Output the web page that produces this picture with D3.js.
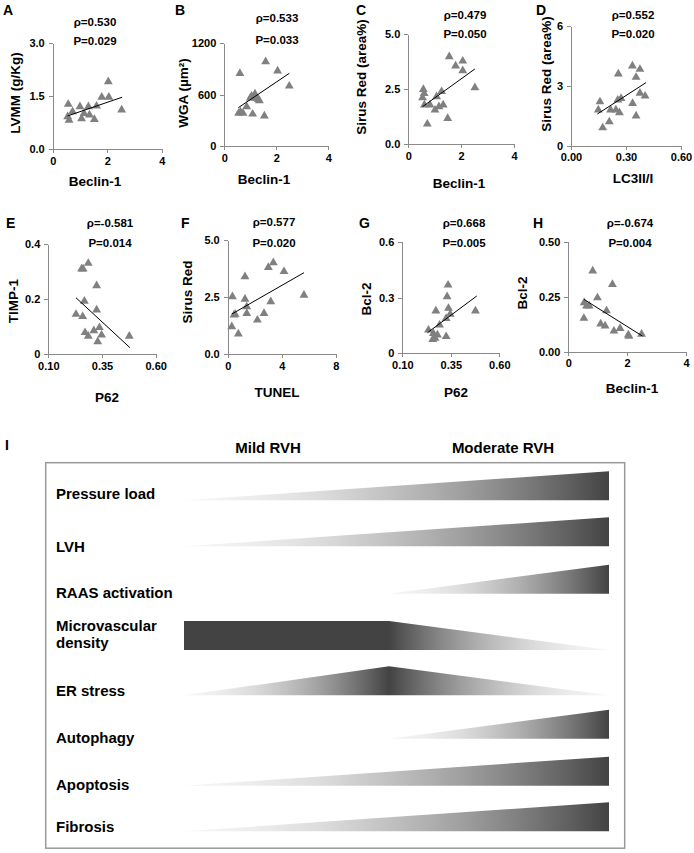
<!DOCTYPE html>
<html lang="en">
<head>
<meta charset="UTF-8">
<title>Correlations and RVH progression</title>
<style>
  body { margin: 0; background: #fff; }
  svg text { font-family: "Liberation Sans", Arial, sans-serif; font-weight: bold; fill: #000; }
  .axis path, .axis line { stroke: #8a8a8a; stroke-width: 1; shape-rendering: crispEdges; }
  .axis text { font-size: 11px; }
  .ttl { font-size: 13.5px; }
  .stat { font-size: 11.5px; }
  .letter { font-size: 14px; }
  .factor { font-size: 15px; }
</style>
</head>
<body>
<svg id="fig" width="694" height="853"></svg>
<script src="https://d3js.org/d3.v7.min.js"></script>
<script>
// ---- scatter data ----
const beclinA = [0.57, 0.55, 0.60, 0.73, 1.00, 1.06, 1.15, 1.31, 1.35, 1.53, 1.61, 1.80, 2.04, 2.06, 2.53];
const lvmmA   = [1.27, 0.92, 0.82, 1.06, 1.20, 0.86, 1.01, 1.20, 0.97, 0.84, 1.22, 1.47, 1.91, 1.47, 1.11];
const fitA = [[0.55, 0.94], [2.55, 1.47]];

const beclinB = [0.60, 0.55, 0.62, 0.72, 0.86, 1.00, 1.05, 1.18, 1.22, 1.31, 1.35, 1.09, 1.54, 1.59, 2.05, 2.50];
const wgaB    = [849, 382, 400, 382, 460, 560, 584, 608, 560, 545, 530, 374, 351, 986, 877, 701];
const fitB = [[0.54, 448], [2.50, 849]];

const beclinC = [0.57, 0.54, 0.60, 0.61, 0.82, 0.72, 1.01, 1.07, 1.16, 1.26, 1.32, 1.49, 1.55, 1.79, 2.06, 2.06, 2.52];
const siriusC = [2.49, 2.11, 2.30, 1.78, 1.78, 0.91, 1.55, 2.16, 1.70, 2.39, 1.78, 1.17, 3.98, 3.56, 3.78, 3.34, 2.57];
const fitC = [[0.54, 1.70], [2.52, 3.42]];

const lc3D    = [0.158, 0.149, 0.173, 0.209, 0.216, 0.245, 0.258, 0.264, 0.255, 0.273, 0.335, 0.336, 0.355, 0.376, 0.355, 0.376, 0.404];
const siriusD = [2.20, 1.79, 0.90, 1.20, 1.79, 1.79, 3.60, 1.66, 2.29, 2.37, 4.00, 2.12, 3.43, 3.83, 1.49, 2.63, 2.49];
const fitD = [[0.144, 1.59], [0.409, 3.16]];

const p62E  = [0.255, 0.286, 0.325, 0.268, 0.325, 0.229, 0.260, 0.271, 0.286, 0.312, 0.338, 0.348, 0.330, 0.477, 0.262];
const timpE = [0.310, 0.330, 0.249, 0.193, 0.161, 0.145, 0.137, 0.079, 0.066, 0.086, 0.097, 0.070, 0.046, 0.066, 0.310];
const fitE = [[0.229, 0.205], [0.480, 0.024]];

const tunelF  = [0.35, 0.30, 0.79, 0.47, 1.28, 1.28, 1.41, 1.41, 2.20, 2.69, 3.01, 3.38, 3.19, 4.17, 5.65, 0.55];
const siriusF = [2.52, 1.21, 0.89, 1.72, 3.40, 2.41, 2.08, 1.79, 1.50, 1.79, 3.80, 4.01, 2.30, 3.62, 2.59, 1.75];
const fitF = [[0.30, 1.76], [5.65, 3.57]];

const p62G = [0.336, 0.331, 0.273, 0.338, 0.347, 0.326, 0.477, 0.292, 0.235, 0.260, 0.281, 0.269, 0.326, 0.257];
const bclG = [0.367, 0.305, 0.228, 0.242, 0.210, 0.188, 0.228, 0.152, 0.125, 0.107, 0.099, 0.081, 0.090, 0.075];
const fitG = [[0.23, 0.111], [0.484, 0.308]];

const beclinH = [0.83, 1.50, 0.99, 0.54, 0.62, 0.71, 1.30, 0.53, 1.10, 1.25, 1.55, 1.76, 2.04, 2.49, 2.06];
const bclH    = [0.367, 0.306, 0.245, 0.223, 0.208, 0.208, 0.186, 0.152, 0.126, 0.117, 0.094, 0.106, 0.076, 0.080, 0.070];
const fitH = [[0.53, 0.238], [2.52, 0.071]];

// ---- panel text and ticks ----
const panelIds = ["A", "B", "C", "D", "E", "F", "G", "H"];
const xTitles = ["Beclin-1", "Beclin-1", "Beclin-1", "LC3II/I", "P62", "TUNEL", "P62", "Beclin-1"];
const yTitles = ["LVMM (g/Kg)", "WGA (µm²)", "Sirus Red (area%)", "Sirus Red (area%)", "TIMP-1", "Sirus Red", "Bcl-2", "Bcl-2"];
const rhos = ["ρ=0.530", "ρ=0.533", "ρ=0.479", "ρ=0.552", "ρ=-0.581", "ρ=0.577", "ρ=0.668", "ρ=-0.674"];
const pvals = ["P=0.029", "P=0.033", "P=0.050", "P=0.020", "P=0.014", "P=0.020", "P=0.005", "P=0.004"];
const xTicks = [[0, 2, 4], [0, 2, 4], [0, 2, 4], [0, 0.3, 0.6], [0.1, 0.35, 0.6], [0, 4, 8], [0.1, 0.35, 0.6], [0, 2, 4]];
const xTickLabels = [["0", "2", "4"], ["0", "2", "4"], ["0", "2", "4"], ["0.00", "0.30", "0.60"],
                     ["0.10", "0.35", "0.60"], ["0", "4", "8"], ["0.10", "0.35", "0.60"], ["0", "2", "4"]];
const yTicks = [[0, 1.5, 3], [0, 600, 1200], [0, 2.5, 5], [0, 3, 6], [0, 0.2, 0.4], [0, 2.5, 5], [0, 0.3, 0.6], [0, 0.25, 0.5]];
const yTickLabels = [["0.0", "1.5", "3.0"], ["0", "600", "1200"], ["0.0", "2.5", "5.0"], ["0", "3", "6"],
                     ["0", "0.2", "0.4"], ["0.0", "2.5", "5.0"], ["0", "0.3", "0.6"], ["0.00", "0.25", "0.50"]];
const xsAll = [beclinA, beclinB, beclinC, lc3D, p62E, tunelF, p62G, beclinH];
const ysAll = [lvmmA, wgaB, siriusC, siriusD, timpE, siriusF, bclG, bclH];
const fits = [fitA, fitB, fitC, fitD, fitE, fitF, fitG, fitH];

// ---- panel placement (pixels) ----
const frames = [
  {l: 52.7, r: 161.7, t: 43.3, b: 149,   letter: [3, 15],   stat: [95, 26, 45],    xt: [95, 186],  yt: [15, 93]},
  {l: 224.3, r: 328.3, t: 43.3, b: 146,  letter: [175, 15], stat: [277, 22, 44],   xt: [264, 184], yt: [183, 93]},
  {l: 408.3, r: 514, t: 34.3, b: 144,    letter: [356, 15], stat: [465, 18.5, 38], xt: [459, 188], yt: [361, 77]},
  {l: 571, r: 681, t: 26, b: 145.7,      letter: [536, 15], stat: [633, 18.5, 38], xt: [633, 183], yt: [546, 74]},
  {l: 48.3, r: 155.7, t: 244, b: 354.3,  letter: [6, 228],  stat: [110, 227, 247], xt: [107, 402], yt: [13, 301]},
  {l: 227.7, r: 335.7, t: 240, b: 354.3, letter: [181, 228], stat: [274, 226, 247], xt: [277, 397], yt: [187, 292]},
  {l: 402.3, r: 499.3, t: 241.7, b: 353.3, letter: [359, 228], stat: [464, 227, 247], xt: [456, 397], yt: [366, 299]},
  {l: 568.3, r: 686, t: 241.7, b: 351.7, letter: [533, 228], stat: [630, 227, 247], xt: [632, 393], yt: [522, 293]}
];

const svg = d3.select("#fig");

panelIds.forEach((id, i) => {
  const f = frames[i];
  const x = d3.scaleLinear().domain(d3.extent(xTicks[i])).range([f.l, f.r]);
  const y = d3.scaleLinear().domain(d3.extent(yTicks[i])).range([f.b, f.t]);

  svg.append("g").attr("class", "axis")
    .attr("transform", `translate(0,${f.b})`)
    .call(d3.axisBottom(x).tickValues(xTicks[i]).tickFormat((d, k) => xTickLabels[i][k])
      .tickSizeInner(4).tickSizeOuter(0).tickPadding(4));
  svg.append("g").attr("class", "axis")
    .attr("transform", `translate(${f.l},0)`)
    .call(d3.axisLeft(y).tickValues(yTicks[i]).tickFormat((d, k) => yTickLabels[i][k])
      .tickSizeInner(4).tickSizeOuter(0).tickPadding(4));

  // points
  svg.append("g").selectAll("path")
    .data(d3.zip(xsAll[i], ysAll[i]))
    .join("path")
    .attr("transform", d => `translate(${x(d[0])},${y(d[1])})`)
    .attr("d", d3.symbol(d3.symbolTriangle, 34))
    .attr("fill", "#808080");

  // regression line
  svg.append("path")
    .datum(fits[i])
    .attr("d", d3.line().x(d => x(d[0])).y(d => y(d[1])))
    .attr("stroke", "#000").attr("stroke-width", 1).attr("fill", "none");

  svg.append("text").attr("class", "letter").attr("x", f.letter[0]).attr("y", f.letter[1]).text(id);
  svg.append("text").attr("class", "stat").attr("text-anchor", "middle")
    .attr("x", f.stat[0]).attr("y", f.stat[1]).text(rhos[i]);
  svg.append("text").attr("class", "stat").attr("text-anchor", "middle")
    .attr("x", f.stat[0]).attr("y", f.stat[2]).text(pvals[i]);
  svg.append("text").attr("class", "ttl").attr("text-anchor", "middle")
    .attr("x", f.xt[0]).attr("y", f.xt[1]).text(xTitles[i]);
  svg.append("text").attr("class", "ttl").attr("text-anchor", "middle")
    .attr("transform", `translate(${f.yt[0]},${f.yt[1]}) rotate(-90)`)
    .attr("dy", "0.36em").text(yTitles[i]);
});

// ---- panel I: schematic ----
const stages = ["Mild RVH", "Moderate RVH"];
const factorLabels = [["Pressure load"], ["LVH"], ["RAAS activation"], ["Microvascular", "density"],
                      ["ER stress"], ["Autophagy"], ["Apoptosis"], ["Fibrosis"]];
// [stage position (0 = start, 1 = mild, 2 = moderate), relative level]
const profiles = [
  [[0, 0], [2, 1]],
  [[0, 0], [2, 1]],
  [[1, 0], [2, 1]],
  [[0, 1], [1, 1], [2, 0]],
  [[0, 0], [1, 1], [2, 0]],
  [[1, 0], [2, 1]],
  [[0, 0], [2, 1]],
  [[0, 0], [2, 1]]
];

const rowBottom = [500.3, 546.3, 593.7, 650, 695.3, 738.7, 785.7, 831.3];
const labelBase = [499, 551.7, 598, 631, 695.7, 742.7, 790, 832];

const sx = d3.scaleLinear().domain([0, 1, 2]).range([184, 389, 609]);
const sh = d3.scaleLinear().domain([0, 1]).range([0, 29]);
const shade = t => d3.interpolateRgb("#f4f4f4", "#434343")(Math.pow(t, 1.8));

svg.append("text").attr("x", 5).attr("y", 450).style("font-size", "14px").text("I");
svg.append("text").attr("class", "factor").attr("text-anchor", "middle").attr("x", 268).attr("y", 453).text(stages[0]);
svg.append("text").attr("class", "factor").attr("text-anchor", "middle").attr("x", 503).attr("y", 453).text(stages[1]);

svg.append("rect").attr("x", 45.7).attr("y", 462.7).attr("width", 579).attr("height", 385.5)
  .attr("fill", "none").attr("stroke", "#9a9a9a").attr("stroke-width", 1.5);

const defs = svg.append("defs");

profiles.forEach((pts, i) => {
  const base = rowBottom[i];
  const x1 = sx(pts[0][0]), x2 = sx(pts[pts.length - 1][0]);
  const grad = defs.append("linearGradient")
    .attr("id", "g" + i).attr("gradientUnits", "userSpaceOnUse")
    .attr("x1", x1).attr("x2", x2).attr("y1", 0).attr("y2", 0);
  for (let s = 0; s < pts.length - 1; s++) {
    const a = pts[s], b = pts[s + 1];
    for (let k = 0; k <= 12; k++) {
      const u = k / 12;
      const px = sx(a[0] + (b[0] - a[0]) * u);
      grad.append("stop")
        .attr("offset", (px - x1) / (x2 - x1))
        .attr("stop-color", shade(a[1] + (b[1] - a[1]) * u));
    }
  }
  svg.append("path")
    .datum(pts)
    .attr("d", d3.area().x(d => sx(d[0])).y0(base).y1(d => base - sh(d[1])))
    .attr("fill", `url(#g${i})`);

  factorLabels[i].forEach((line, j) => {
    svg.append("text").attr("class", "factor").attr("x", 56).attr("y", labelBase[i] + j * 17).text(line);
  });
});
</script>
</body>
</html>
